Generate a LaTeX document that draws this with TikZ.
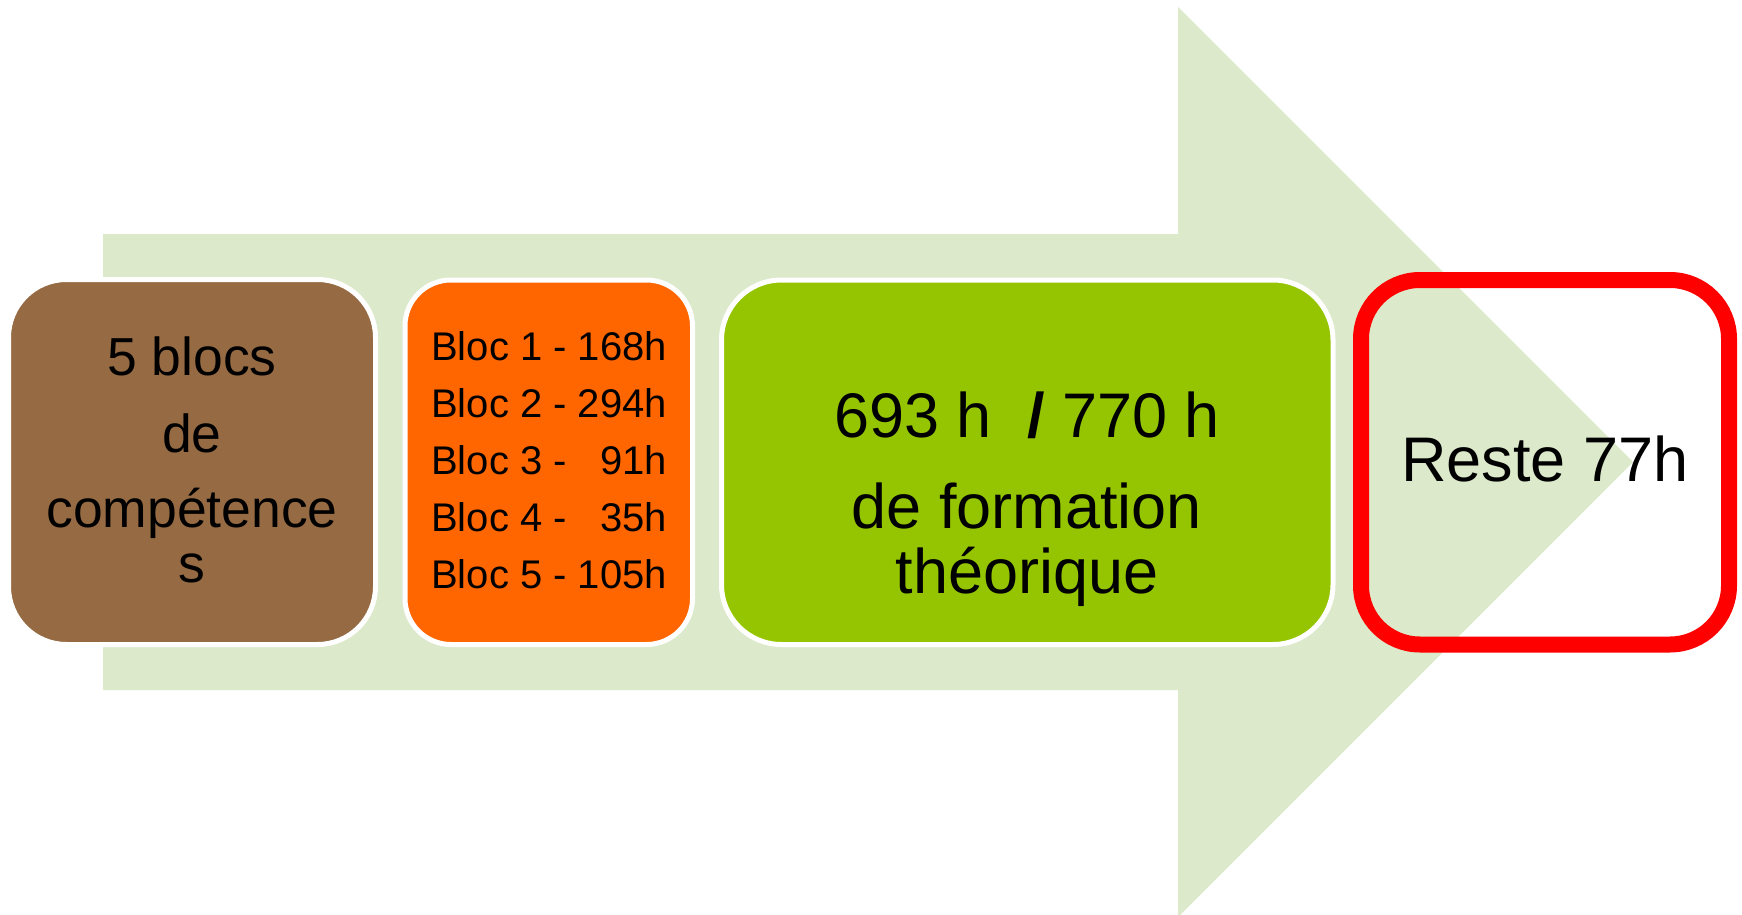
\documentclass[tikz,border=0pt]{standalone}
\usepackage{fontspec}
\setmainfont{Liberation Sans}
\definecolor{arrowgreen}{RGB}{220,233,203}
\definecolor{boxbrown}{RGB}{150,107,67}
\definecolor{boxorange}{RGB}{255,102,0}
\definecolor{boxgreen}{RGB}{149,197,0}
\definecolor{boxred}{RGB}{255,0,0}
\tikzset{
  stepbox/.style={rectangle, rounded corners=#1, draw=white, line width=5pt, inner sep=0pt},
  redbox/.style={rectangle, rounded corners=59pt, draw=boxred, line width=16pt, inner sep=0pt},
  txt/.style={anchor=base, inner sep=0pt, text=black},
  txtl/.style={anchor=base west, inner sep=0pt, text=black},
}
\begin{document}
\begin{tikzpicture}[x=1pt,y=-1pt]
\useasboundingbox (0,0) rectangle (1742,915);
% big arrow
\fill[arrowgreen] (103,234) -- (1178,234) -- (1178,7) -- (1633,462) -- (1178,917) -- (1178,690) -- (103,690) -- cycle;
% boxes
\node[stepbox=58pt, fill=boxbrown, minimum width=367pt, minimum height=365pt] (b1) at (192,462) {};
\node[stepbox=46pt, fill=boxorange, minimum width=287.5pt, minimum height=364.5pt] (b2) at (548.75,462.25) {};
\node[stepbox=60pt, fill=boxgreen, minimum width=611.5pt, minimum height=364.5pt] (b3) at (1027.25,462.25) {};
\node[redbox, minimum width=368pt, minimum height=364.5pt] (b4) at (1545,462.25) {};
% box 1 text
\begin{scope}[every node/.append style={font=\fontsize{53.5}{60}\selectfont}]
\node[txt] (t11) at (192,375) {5 blocs};
\node[txt] (t12) at (192,452) {de};
\node[txt] (t13) at (192,527) {compétence};
\node[txt] (t14) at (192,582) {s};
\end{scope}
% box 2 text
\begin{scope}[every node/.append style={font=\fontsize{40}{45}\selectfont}]
\node[txtl] (t21) at (431,360) {Bloc 1 - 168h};
\node[txtl] (t22) at (431,417) {Bloc 2 - 294h};
\node[txtl] (t23) at (431,474) {Bloc 3 - \hphantom{1}91h};
\node[txtl] (t24) at (431,531) {Bloc 4 - \hphantom{1}35h};
\node[txtl] (t25) at (431,588) {Bloc 5 - 105h};
\end{scope}
% box 3 text
\begin{scope}[every node/.append style={font=\fontsize{63}{70}\selectfont}]
\node[txt] (t31) at (1027,437) {693 h~~\textbf{/} 770 h};
\node[txt] (t32) at (1027,528) {de formation};
\node[txt] (t33) at (1027,593) {théorique};
\node[txt] (t41) at (1545,481) {Reste 77h};
\end{scope}
\end{tikzpicture}
\end{document}
